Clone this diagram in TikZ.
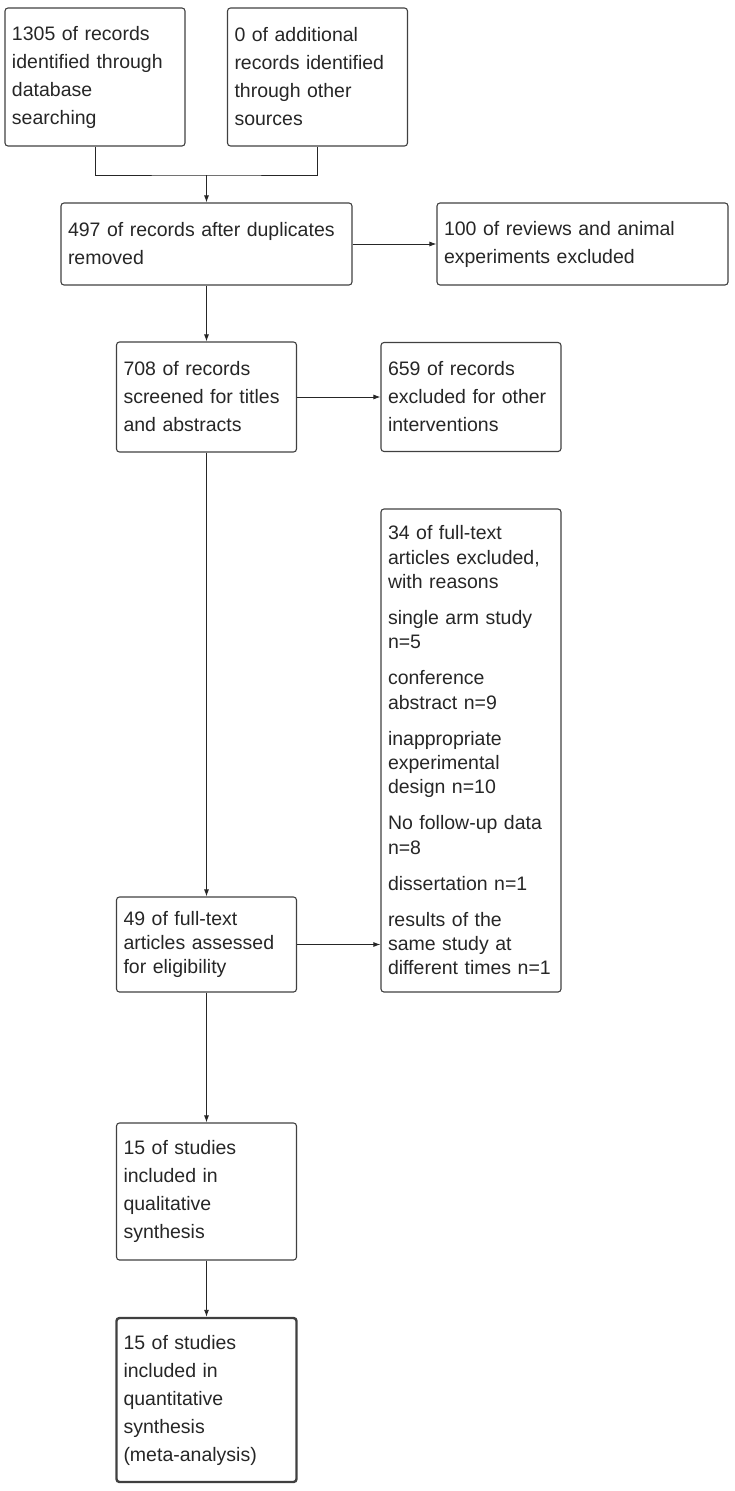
\documentclass[tikz,border=0pt]{standalone}
\usepackage{fontspec}
\setmainfont{Liberation Sans}
\usepackage{xcolor}
\usetikzlibrary{arrows.meta}

\begin{document}
\begin{tikzpicture}[x=1pt, y=-1pt,
  box/.style={draw=black!75, line width=1.1pt, rounded corners=3pt, align=left,
    inner xsep=7pt, inner ysep=0pt, text=black!85,
    font=\fontsize{19.5}{28}\selectfont},
  tightbox/.style={box, font=\fontsize{19.5}{24.2}\selectfont},
  arr/.style={line width=0.9pt, draw=black!85, -{Latex[length=7pt,width=5pt]}}]
  \useasboundingbox (0,0) rectangle (735,1491);

  % Identification
  \node[box, text width=166pt, minimum height=138pt] (search) at (95,77)
    {1305 of records\\identified through\\database\\searching};
  \node[box, text width=166pt, minimum height=138pt] (other) at (317.5,77)
    {0 of additional\\records identified\\through other\\sources};
  \coordinate (merge) at (206.5,175);
  \draw[line width=0.9pt, draw=black!85] (search.south) |- (merge) -| (other.south);

  % Duplicates
  \node[box, text width=277pt, minimum height=82pt] (dedup) at (206.5,244)
    {497 of records after duplicates\\removed};
  \node[box, text width=277pt, minimum height=82pt] (reviews) at (582.5,244)
    {100 of reviews and animal\\experiments excluded};
  \draw[arr] (merge) -- (dedup);
  \draw[arr] (dedup) -- (reviews);

  % Screening
  \node[box, text width=166pt, minimum height=110pt] (screen) at (206.5,397)
    {708 of records\\screened for titles\\and abstracts};
  \node[box, text width=166pt, minimum height=109pt] (other-int) at (471,397)
    {659 of records\\excluded for other\\interventions};
  \draw[arr] (dedup) -- (screen);
  \draw[arr] (screen) -- (other-int);

  % Eligibility
  \node[tightbox, text width=166pt, minimum height=95pt] (fulltext) at (206.5,944.5)
    {49 of full-text\\articles assessed\\for eligibility};
  \node[tightbox, text width=166pt, minimum height=483pt] (reasons) at (471,750.5)
    {34 of full-text\\articles excluded,\\with reasons\\[12pt]
     single arm study\\n=5\\[12pt]
     conference\\abstract n=9\\[12pt]
     inappropriate\\experimental\\design n=10\\[12pt]
     No follow-up data\\n=8\\[12pt]
     dissertation n=1\\[12pt]
     results of the\\same study at\\different times n=1};
  \draw[arr] (screen) -- (fulltext);
  \draw[arr] (fulltext.east) -- (fulltext.east -| reasons.west);

  % Included
  \node[box, text width=166pt, minimum height=137pt] (qual) at (206.5,1191.5)
    {15 of studies\\included in\\qualitative\\synthesis};
  \node[box, line width=2.4pt, text width=166pt, minimum height=164pt] (quant) at (206.5,1400)
    {15 of studies\\included in\\quantitative\\synthesis\\(meta-analysis)};
  \draw[arr] (fulltext) -- (qual);
  \draw[arr] (qual) -- (quant);
\end{tikzpicture}
\end{document}
